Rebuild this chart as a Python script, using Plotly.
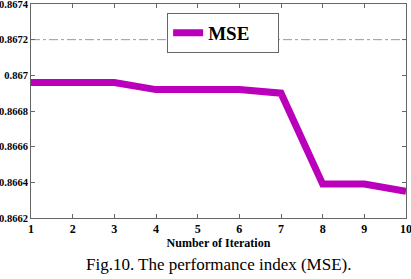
import plotly.graph_objects as go

iterations = [1, 2, 3, 4, 5, 6, 7, 8, 9, 10]
mse = [0.86696, 0.86696, 0.86696, 0.86692, 0.86692, 0.86692, 0.86690, 0.86639, 0.86639, 0.86635]
ref_level = 0.8672
y_ticks = [0.8662, 0.8664, 0.8666, 0.8668, 0.867, 0.8672, 0.8674]
y_tick_labels = ["0.8662", "0.8664", "0.8666", "0.8668", "0.867", "0.8672", "0.8674"]

font_fam = "Liberation Serif"
axis_col = "#666666"

fig = go.Figure()
fig.add_trace(go.Scatter(
    x=[iterations[0], iterations[-1]], y=[ref_level, ref_level], mode="lines",
    line=dict(color="#999999", width=1, dash="dashdot"), showlegend=False, hoverinfo="skip"))
fig.add_trace(go.Scatter(
    x=iterations, y=mse, mode="lines", name="<b>MSE</b>&nbsp;&nbsp;&nbsp;&nbsp;&nbsp;",
    line=dict(color="#bb00bb", width=7)))

fig.update_layout(
    width=411, height=279,
    margin=dict(l=31, r=5, t=4, b=61),
    paper_bgcolor="white", plot_bgcolor="white",
    font=dict(family=font_fam, color="black", size=12),
    showlegend=True,
    legend=dict(x=0.363, y=0.958, xanchor="left", yanchor="top",
                bgcolor="white", bordercolor=axis_col, borderwidth=1,
                font=dict(family=font_fam, size=19, color="black"),
                itemwidth=30),
    xaxis=dict(range=[1, 10], tickvals=iterations,
               ticktext=[f"<b>{v}</b>" for v in iterations],
               showgrid=False, zeroline=False, showline=True, linecolor=axis_col,
               linewidth=1, mirror="ticks", ticks="inside", ticklen=4, tickcolor=axis_col,
               tickfont=dict(family=font_fam, size=12), automargin=False,
               ticklabeloverflow="allow",
               title=dict(text="<b>Number of Iteration</b>", font=dict(family=font_fam, size=12), standoff=1)),
    yaxis=dict(range=[0.8662, 0.8674], tickvals=y_ticks,
               ticktext=[f"<b>{t}</b>" for t in y_tick_labels],
               showgrid=False, zeroline=False, showline=True, linecolor=axis_col,
               linewidth=1, mirror="ticks", ticks="inside", ticklen=4, tickcolor=axis_col,
               tickfont=dict(family=font_fam, size=10.5), ticklabelstandoff=0, automargin=False,
               ticklabeloverflow="allow"),
)

fig.add_annotation(text="Fig.10. The performance index (MSE).", xref="paper", yref="paper",
                   x=0.5, y=-0.215, xanchor="center", yanchor="middle", showarrow=False,
                   font=dict(family=font_fam, size=17, color="black"))

fig.write_html("out.html", config={"displayModeBar": False},
               post_script="document.body.style.margin='0';document.body.style.padding='0';")
